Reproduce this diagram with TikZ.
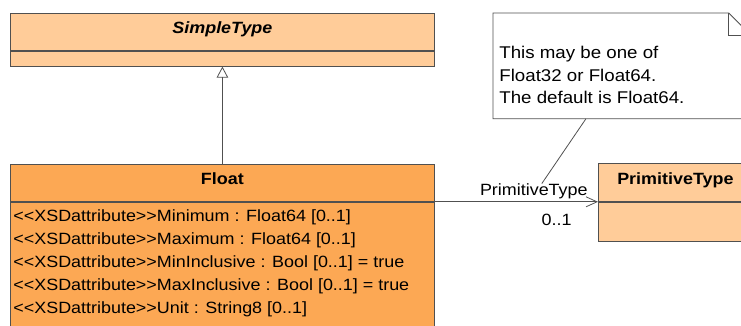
\documentclass[tikz,border=0pt]{standalone}
\usepackage{fontspec}
\newfontfamily\umlfont{Liberation Sans}[FakeStretch=1.1]
\usetikzlibrary{arrows.meta,positioning}
\definecolor{classfill}{RGB}{255,204,153}
\definecolor{floatfill}{RGB}{252,168,84}
\definecolor{umlline}{RGB}{80,80,80}

\tikzset{
  classhead/.style={draw=umlline, anchor=north west, inner sep=0pt,
    minimum width=424pt, minimum height=37pt, text height=12pt, text depth=8pt,
    font=\umlfont\fontsize{16.3}{20}\selectfont\bfseries},
  classbody/.style={draw=umlline, inner sep=0pt, minimum width=424pt},
  umltext/.style={inner sep=0pt, align=left,
    font=\umlfont\fontsize{16.3}{23}\selectfont},
  inherit/.style={draw=umlline, -{Triangle[open, length=11pt, width=11.5pt]}},
  assoc/.style={draw=umlline, -{Straight Barb[length=11pt, width=10pt]}},
}

\begin{document}
\begin{tikzpicture}[x=1pt, y=-1pt, line width=0.8pt]
\useasboundingbox (0,0) rectangle (741,325);

% base class
\node (simple) [classhead, fill=classfill] at (10,13) {\itshape SimpleType};
\node (simplebody) [classbody, fill=classfill, minimum height=15pt, below=0pt of simple] {};

% Float and its attributes
\node (float) [classhead, fill=floatfill] at (10,164) {Float};
\node (floatbody) [classbody, fill=floatfill, minimum height=140pt, below=0pt of float] {};
\node (attrs) [umltext, anchor=north west] at (13,209) {%
  <<XSDattribute>>Minimum : Float64 [0..1]\\
  <<XSDattribute>>Maximum : Float64 [0..1]\\
  <<XSDattribute>>MinInclusive : Bool [0..1] = true\\
  <<XSDattribute>>MaxInclusive : Bool [0..1] = true\\
  <<XSDattribute>>Unit : String8 [0..1]};

% referenced type
\node (prim) [classhead, fill=classfill, minimum width=154pt, minimum height=38pt] at (598,163) {PrimitiveType};
\node (primbody) [classbody, fill=classfill, minimum width=154pt, minimum height=39pt, below=0pt of prim] {};

\draw [inherit] (float.north) -- (simplebody.south);
\draw [assoc] (float.south east) -- (prim.south west);
\node (role) [umltext, anchor=base east] at ([shift={(-10,-6)}]prim.south west) {PrimitiveType};
\node (mult) [umltext, anchor=base east] at ([shift={(-26,24)}]prim.south west) {0..1};

% comment box with folded corner
\node (note) [anchor=north west, inner sep=0pt, minimum width=257pt, minimum height=105pt] at (493,13) {};
\draw [umlline, fill=white] (note.north west) -- ([xshift=-22pt]note.north east)
  -- ([yshift=-22pt]note.north east) -- (note.south east) -- (note.south west) -- cycle;
\draw [umlline] ([xshift=-22pt]note.north east) |- ([yshift=-22pt]note.north east);
\node (notetext) [umltext, font=\umlfont\fontsize{17}{22.5}\selectfont, anchor=north west] at (499,46)
  {This may be one of\\Float32 or Float64.\\The default is Float64.};
\draw [umlline] ([xshift=-36pt]note.south) -- ([xshift=8pt]role.north);
\end{tikzpicture}
\end{document}
